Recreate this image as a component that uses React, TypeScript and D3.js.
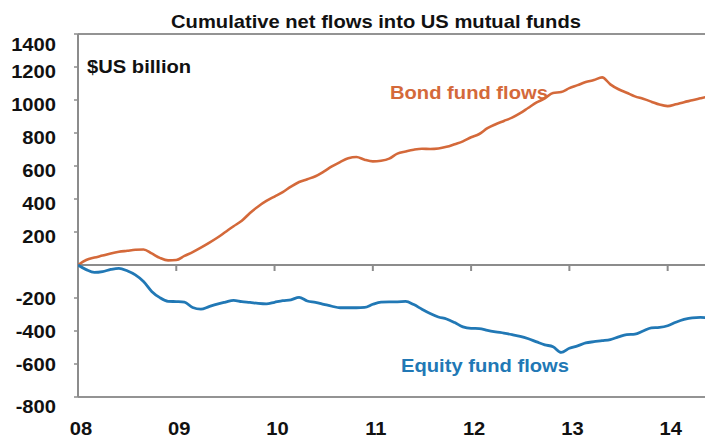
import React from "react";
import * as d3 from "d3";

const title = "Cumulative net flows into US mutual funds";
const unitLabel = "$US billion";
const bondLabel = "Bond fund flows";
const equityLabel = "Equity fund flows";

// Monthly observations starting January 2008
const startYear = 2008;
const bondFlows = [
  0, 30, 45, 57, 70, 80, 86, 92, 94, 70, 43, 28,
  30, 55, 78, 105, 134, 165, 200, 235, 268, 315, 355, 388,
  415, 442, 475, 503, 520, 538, 566, 597, 624, 647, 655, 638,
  628, 632, 645, 675, 688, 699, 705, 703, 706, 716, 732, 749,
  774, 794, 829, 853, 873, 893, 920, 953, 985, 1010, 1043, 1048,
  1072, 1090, 1109, 1121, 1137, 1095, 1065, 1044, 1022, 1007, 990, 972,
  963, 974, 987, 998, 1010, 1022,
];
const equityFlows = [
  0, -28, -45, -40, -27, -20, -35, -60, -100, -160, -198, -220,
  -222, -225, -258, -268, -252, -237, -225, -214, -222, -227, -233, -236,
  -226, -216, -211, -196, -218, -226, -238, -250, -259, -259, -259, -257,
  -238, -225, -223, -223, -221, -240, -268, -294, -315, -327, -349, -375,
  -384, -385, -396, -405, -413, -422, -432, -447, -466, -484, -495, -530,
  -505, -490, -472, -465, -459, -452, -436, -422, -419, -400, -381, -378,
  -368, -347, -330, -320, -318, -319,
];
const yTicks = [1400, 1200, 1000, 800, 600, 400, 200, -200, -400, -600, -800];
const xTickYears = [2008, 2009, 2010, 2011, 2012, 2013, 2014];
const xTickLabels = ["08", "09", "10", "11", "12", "13", "14"];

const W = 705;
const H = 441;
const left = 78;
const top = 34;
const bottom = 397;
const stretch = 1.12;
const font = "'Liberation Sans', Arial, sans-serif";

export default function App() {
  const x = d3.scaleLinear().domain([0, 76.56]).range([left, W]);
  const y = d3.scaleLinear().domain([-800, 1400]).range([bottom, top]);
  const monthX = (i: number) => x(i);
  const yearX = (yr: number) => x((yr - startYear) * 12);

  const line = d3
    .line<number>()
    .x((_, i) => monthX(i))
    .y((v) => y(v))
    .curve(d3.curveMonotoneX);

  const axisColor = "#8c8c8c";
  const bondColor = "#d4693a";
  const equityColor = "#2178b5";

  const T = (props: {
    x: number;
    y: number;
    anchor?: string;
    size?: number;
    color?: string;
    children: React.ReactNode;
  }) => (
    <g transform={`translate(${props.x},${props.y}) scale(${stretch},1)`}>
      <text
        x={0}
        y={0}
        textAnchor={props.anchor || "start"}
        fontFamily={font}
        fontWeight="bold"
        fontSize={props.size || 18}
        fill={props.color || "#111"}
        dominantBaseline="central"
      >
        {props.children}
      </text>
    </g>
  );

  const yLabelOffset = (v: number) =>
    v === 1400 ? 11 : v === -800 ? 10 : v > 0 ? 5 : 1;

  return (
    <svg
      width={W}
      height={H}
      style={{ position: "absolute", left: 0, top: 0, background: "#fff" }}
    >
      <defs>
        <clipPath id="plot">
          <rect x={left} y={top} width={W - left} height={bottom - top} />
        </clipPath>
      </defs>
      <rect x={0} y={0} width={W} height={H} fill="#fff" />

      {/* frame */}
      <line x1={left} x2={W} y1={top} y2={top} stroke="#6f6f6f" strokeWidth={1.5} />
      <line x1={left} x2={W} y1={bottom} y2={bottom} stroke="#6f6f6f" strokeWidth={1.5} />
      <line x1={left} x2={left} y1={top} y2={bottom} stroke={axisColor} strokeWidth={2} />
      <line x1={left} x2={W} y1={y(0)} y2={y(0)} stroke={axisColor} strokeWidth={2} />

      {/* y ticks */}
      {yTicks.map((v) => (
        <g key={v}>
          <line x1={left - 4} x2={left} y1={y(v)} y2={y(v)} stroke={axisColor} strokeWidth={1.5} />
          <T x={56} y={y(v) + yLabelOffset(v)} anchor="end">
            {String(v)}
          </T>
        </g>
      ))}

      {/* x ticks */}
      {xTickYears.map((yr, i) => (
        <g key={yr}>
          {i > 0 && (
            <line
              x1={yearX(yr)}
              x2={yearX(yr)}
              y1={y(0)}
              y2={y(0) + 6}
              stroke={axisColor}
              strokeWidth={2}
            />
          )}
          <T x={yearX(yr) + 3} y={429} anchor="middle">
            {xTickLabels[i]}
          </T>
        </g>
      ))}

      <g clipPath="url(#plot)">
        <path d={line(bondFlows) || ""} fill="none" stroke={bondColor} strokeWidth={2.6} />
        <path d={line(equityFlows) || ""} fill="none" stroke={equityColor} strokeWidth={2.8} />
      </g>

      <T x={376} y={22} anchor="middle" size={18}>
        {title}
      </T>
      <T x={87} y={67}>{unitLabel}</T>
      <T x={390} y={93} color={bondColor}>
        {bondLabel}
      </T>
      <T x={401} y={366} color={equityColor}>
        {equityLabel}
      </T>
    </svg>
  );
}
